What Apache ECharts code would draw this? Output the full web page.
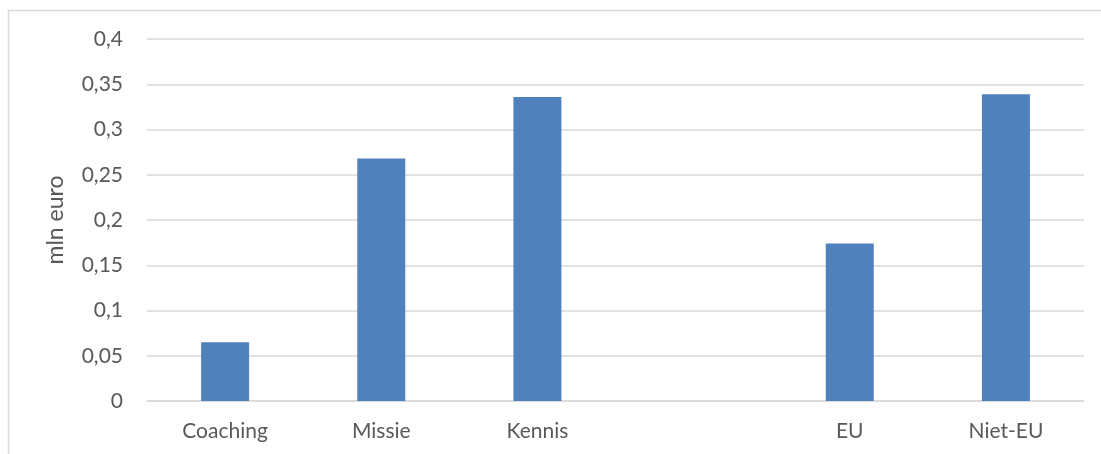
<!DOCTYPE html>
<html>
<head>
<meta charset="utf-8">
<script src="https://cdn.jsdelivr.net/npm/echarts@6/dist/echarts.min.js"></script>
<style>
  html, body { margin: 0; padding: 0; background: #fff; }
  #chart { width: 1101px; height: 454px; }
</style>
</head>
<body>
<div id="chart"></div>
<script>
// categories (lege kolom tussen Kennis en EU)
const categories = ["Coaching", "Missie", "Kennis", "", "EU", "Niet-EU"];
const values = [0.065, 0.268, 0.336, null, 0.174, 0.339]; // mln euro
const yTicks = [0, 0.05, 0.1, 0.15, 0.2, 0.25, 0.3, 0.35, 0.4];

const chart = echarts.init(document.getElementById("chart"));

const option = {
  animation: false,
  textStyle: { fontFamily: "Lato, 'Open Sans', sans-serif" },
  graphic: [
    {
      type: "rect",
      shape: { x: 8.5, y: 10.5, width: 1100, height: 450 },
      style: { fill: "none", stroke: "#d9d9d9", lineWidth: 1.5 },
      silent: true,
    },
  ],
  grid: {
    left: 147,
    right: 17,
    top: 39,
    bottom: 53,
  },
  xAxis: {
    type: "category",
    data: categories,
    axisLine: { lineStyle: { color: "#d9d9d9", width: 1.5 } },
    axisTick: { show: false },
    axisLabel: { color: "#595959", fontSize: 21, margin: 20 },
  },
  yAxis: {
    type: "value",
    min: yTicks[0],
    max: yTicks[yTicks.length - 1],
    interval: 0.05,
    name: "mln euro",
    nameLocation: "middle",
    nameGap: 80,
    nameTextStyle: { color: "#595959", fontSize: 23 },
    axisLine: { show: false },
    axisTick: { show: false },
    axisLabel: {
      color: "#595959",
      fontSize: 21,
      margin: 24,
      formatter: (v) => String(+v.toFixed(2)).replace(".", ","),
    },
    splitLine: { lineStyle: { color: "#d9d9d9", width: 1.5 } },
  },
  series: [
    {
      type: "bar",
      data: values,
      barWidth: 48,
      itemStyle: { color: "#4f81bd" },
    },
  ],
};

chart.setOption(option);
</script>
</body>
</html>
